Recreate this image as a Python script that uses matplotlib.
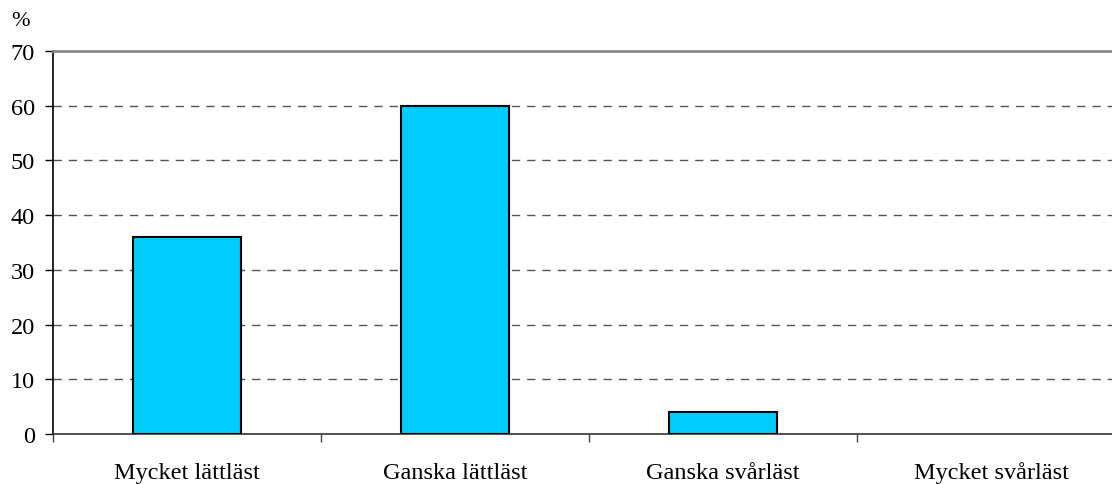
import matplotlib.pyplot as plt
import numpy as np

categories = ['Mycket lättläst', 'Ganska lättläst', 'Ganska svårläst', 'Mycket svårläst']
percent = [36, 60, 4, 0]
yticks = [0, 10, 20, 30, 40, 50, 60, 70]

plt.rcParams['font.family'] = ['Liberation Serif', 'DejaVu Serif']

fig = plt.figure(figsize=(11.12, 4.85), dpi=100)
# plot area runs past the right edge in the original
ax = fig.add_axes([53/1112, 1-435/485, (1125-53)/1112, (435-52)/485])

x = np.arange(len(categories))
# no outline for empty bars
edges = [1.5 if v > 0 else 0 for v in percent]
ax.bar(x, percent, width=0.4, color='#00CCFF', edgecolor='black', linewidth=edges, zorder=3)

ax.set_xlim(-0.5, 3.5)
ax.set_ylim(0, 70)
ax.set_yticks(yticks)
ax.set_yticklabels([str(v) for v in yticks], fontsize=17.5)

# ticks at category boundaries, labels at centres
ax.set_xticks(np.arange(-0.5, 3.6, 1))
ax.set_xticklabels([])
ax.set_xticks(x, minor=True)
ax.set_xticklabels(categories, minor=True, fontsize=17.5, va='baseline')
ax.tick_params(axis='x', which='minor', length=0, pad=32)
ax.tick_params(axis='x', which='major', length=6, width=1, color='#444444')
ax.tick_params(axis='y', length=6, width=1, pad=7)

for v in yticks[1:-1]:
    ax.axhline(v, color='#555555', linestyle=(0, (6, 5)), linewidth=1, zorder=1)

ax.spines['right'].set_visible(False)
ax.spines['top'].set_color('#888888')
ax.spines['top'].set_linewidth(2)
ax.spines['left'].set_linewidth(1.2)
ax.spines['bottom'].set_linewidth(1.2)
ax.spines['bottom'].set_color('#333333')

fig.text(21/1112, 1-22/485, '%', fontsize=16, ha='center', va='center')

plt.savefig('out.png', dpi=100)
